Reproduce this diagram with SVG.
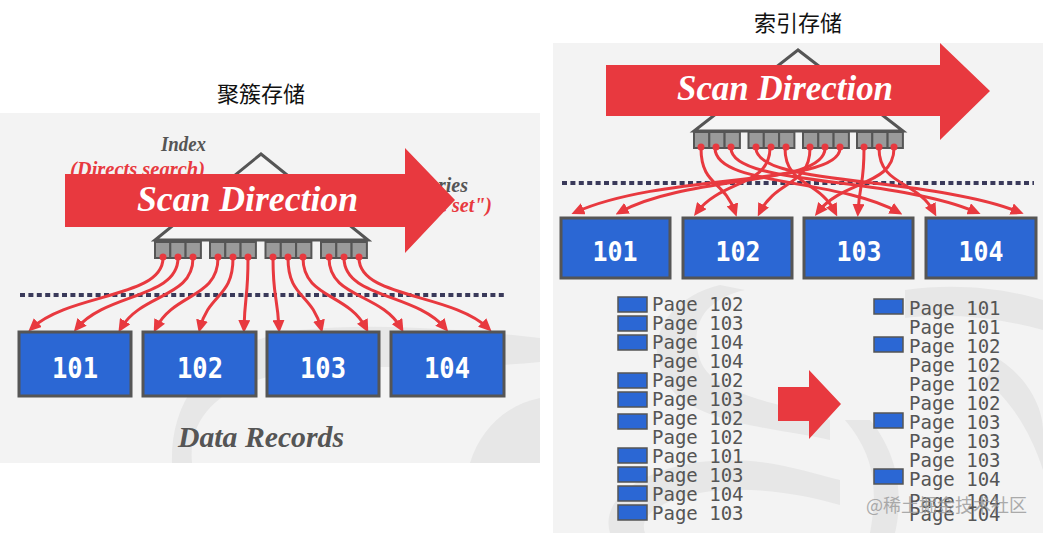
<svg xmlns="http://www.w3.org/2000/svg" width="1043" height="533" viewBox="0 0 1043 533">
  <defs>
    <marker id="ah" markerUnits="userSpaceOnUse" markerWidth="13" markerHeight="12" refX="8" refY="6" orient="auto">
      <path d="M0,0 L13,6 L0,12 z" fill="#e8393f"/>
    </marker>
  </defs>
  <style>
    .panel{fill:#f3f3f3}
    .swirl{fill:#e7e7e7}
    .title{font-family:"Noto Sans CJK SC","Noto Sans",sans-serif;font-size:22px;fill:#111}
    .ital{font-family:"Liberation Serif",serif;font-style:italic;font-weight:bold}
    .gray{fill:#555}
    .red{fill:#e8393f}
    .scan{fill:#fff}
    .tree{fill:#f5f5f5;stroke:#555;stroke-width:3}
    .leaf{fill:#9a9a9a;stroke:#555;stroke-width:2}
    .dot{fill:#e8393f}
    .dots{stroke:#3a3a5a;stroke-width:4;stroke-dasharray:5 3.4;fill:none}
    .box{fill:#2b67d4;stroke:#555;stroke-width:3}
    .num{font-family:"DejaVu Sans Mono",monospace;font-weight:bold;fill:#fff;text-anchor:middle}
    .conn path{fill:none;stroke:#e8393f;stroke-width:3;marker-end:url(#ah)}
    .pg{font-family:"DejaVu Sans Mono","Liberation Mono",monospace;font-size:19px;fill:#555}
    .sq{fill:#2b67d4;stroke:#555;stroke-width:1.5}
    .wm{font-family:"Noto Sans CJK SC",sans-serif;font-size:18px;fill:#999;opacity:0.8}
  </style>

  <rect width="1043" height="533" fill="#fff"/>

  <!-- ===== Left panel: clustered storage ===== -->
  <g id="left-panel">
    <rect class="panel" x="0" y="113" width="540" height="350"/>
    <path class="swirl" d="M192,463 C188,420 215,385 290,372 C360,362 440,372 540,362 L540,338 C470,330 380,322 300,330 C220,340 170,390 172,463 Z"/>
    <path class="swirl" d="M470,463 C480,430 505,405 540,398 L540,463 Z"/>
  </g>
  <text class="title" x="261" y="102" text-anchor="middle">聚簇存储</text>

  <g id="left-labels">
    <text class="ital gray" x="161" y="151" font-size="20" textLength="45" lengthAdjust="spacingAndGlyphs">Index</text>
    <text class="ital red" x="70" y="176" font-size="20" textLength="135" lengthAdjust="spacingAndGlyphs">(Directs search)</text>
    <text class="ital gray" x="468" y="192" font-size="20" text-anchor="end">ries</text>
    <text class="ital red" x="492" y="212" font-size="20" text-anchor="end">e set")</text>
  </g>

  <g id="left-index">
    <polygon class="tree" points="261,154 155,240 368,240"/>
    <rect class="leaf" x="155" y="242" width="15.3" height="16"/>
    <rect class="leaf" x="170.3" y="242" width="15.3" height="16"/>
    <rect class="leaf" x="185.6" y="242" width="15.3" height="16"/>
    <rect class="leaf" x="210" y="242" width="15.3" height="16"/>
    <rect class="leaf" x="225.3" y="242" width="15.3" height="16"/>
    <rect class="leaf" x="240.6" y="242" width="15.3" height="16"/>
    <rect class="leaf" x="265.5" y="242" width="15.3" height="16"/>
    <rect class="leaf" x="280.8" y="242" width="15.3" height="16"/>
    <rect class="leaf" x="296.1" y="242" width="15.3" height="16"/>
    <rect class="leaf" x="321" y="242" width="15.3" height="16"/>
    <rect class="leaf" x="336.3" y="242" width="15.3" height="16"/>
    <rect class="leaf" x="351.6" y="242" width="15.3" height="16"/>
  </g>

  <g id="left-scan-arrow">
    <polygon class="red" points="65,174 405,174 405,148 455,200 405,253 405,227 65,227"/>
    <text class="ital scan" x="137" y="211" font-size="36" textLength="221" lengthAdjust="spacingAndGlyphs">Scan Direction</text>
  </g>

  <line class="dots" x1="20" y1="295" x2="504" y2="295"/>

  <g id="left-connectors" class="conn">
    <path d="M163,258 C163,298 70,293 32,328"/>
    <path d="M178,258 C178,298 106,293 77,328"/>
    <path d="M193,258 C193,298 142,293 121,328"/>
    <path d="M218,258 C218,298 174,293 156,328"/>
    <path d="M233,258 C233,298 209,293 200,328"/>
    <path d="M248,258 C248,298 245,293 244,328"/>
    <path d="M273,258 C273,298 277,293 279,328"/>
    <path d="M288,258 C288,298 312,293 321,328"/>
    <path d="M303,258 C303,298 348,293 366,328"/>
    <path d="M329,258 C329,298 381,293 401,328"/>
    <path d="M344,258 C344,298 416,293 445,328"/>
    <path d="M359,258 C359,298 451,293 488,328"/>
  </g>
  <g id="left-dots">
    <circle class="dot" cx="163" cy="257" r="3.5"/><circle class="dot" cx="178" cy="257" r="3.5"/><circle class="dot" cx="193" cy="257" r="3.5"/>
    <circle class="dot" cx="218" cy="257" r="3.5"/><circle class="dot" cx="233" cy="257" r="3.5"/><circle class="dot" cx="248" cy="257" r="3.5"/>
    <circle class="dot" cx="273" cy="257" r="3.5"/><circle class="dot" cx="288" cy="257" r="3.5"/><circle class="dot" cx="303" cy="257" r="3.5"/>
    <circle class="dot" cx="329" cy="257" r="3.5"/><circle class="dot" cx="344" cy="257" r="3.5"/><circle class="dot" cx="359" cy="257" r="3.5"/>
  </g>

  <g id="left-page-101"><rect class="box" x="19" y="332" width="112" height="64"/><text class="num" x="75" y="378" font-size="29" textLength="46" lengthAdjust="spacingAndGlyphs">101</text></g>
  <g id="left-page-102"><rect class="box" x="143" y="332" width="113" height="64"/><text class="num" x="200" y="378" font-size="29" textLength="46" lengthAdjust="spacingAndGlyphs">102</text></g>
  <g id="left-page-103"><rect class="box" x="267" y="332" width="112" height="64"/><text class="num" x="323" y="378" font-size="29" textLength="46" lengthAdjust="spacingAndGlyphs">103</text></g>
  <g id="left-page-104"><rect class="box" x="391" y="332" width="113" height="64"/><text class="num" x="447" y="378" font-size="29" textLength="46" lengthAdjust="spacingAndGlyphs">104</text></g>

  <text class="ital gray" x="178" y="447" font-size="30" textLength="166" lengthAdjust="spacingAndGlyphs">Data Records</text>

  <!-- ===== Right panel: index storage ===== -->
  <g id="right-panel">
    <rect class="panel" x="553" y="43" width="490" height="490"/>
    <path class="swirl" d="M745,290 C700,300 690,330 700,360 C715,400 800,405 830,420 L830,440 C790,430 700,425 672,390 C640,350 660,300 720,285 Z"/>
    <path class="swirl" d="M610,533 C600,500 640,470 700,462 C760,455 800,470 840,480 L840,505 C790,490 730,485 690,495 C650,505 640,520 645,533 Z"/>
    <path class="swirl" d="M905,290 C960,282 1010,290 1043,300 L1043,330 C1000,318 950,312 905,318 Z"/>
    <path class="swirl" d="M1000,360 C1030,380 1043,410 1043,430 L1043,470 C1030,430 1010,400 985,380 Z"/>
    <path class="swirl" d="M845,420 C870,450 880,480 870,533 L895,533 C905,490 895,450 870,420 Z"/>
  </g>
  <text class="title" x="798" y="31" text-anchor="middle" font-size="23">索引存储</text>

  <g id="right-index">
    <polygon class="tree" points="798,50 694,131 903,131"/>
    <rect class="leaf" x="694" y="132" width="15.3" height="16"/>
    <rect class="leaf" x="709.3" y="132" width="15.3" height="16"/>
    <rect class="leaf" x="724.6" y="132" width="15.3" height="16"/>
    <rect class="leaf" x="748.5" y="132" width="15.3" height="16"/>
    <rect class="leaf" x="763.8" y="132" width="15.3" height="16"/>
    <rect class="leaf" x="779.1" y="132" width="15.3" height="16"/>
    <rect class="leaf" x="803" y="132" width="15.3" height="16"/>
    <rect class="leaf" x="818.3" y="132" width="15.3" height="16"/>
    <rect class="leaf" x="833.6" y="132" width="15.3" height="16"/>
    <rect class="leaf" x="857" y="132" width="15.3" height="16"/>
    <rect class="leaf" x="872.3" y="132" width="15.3" height="16"/>
    <rect class="leaf" x="887.6" y="132" width="15.3" height="16"/>
  </g>

  <g id="right-scan-arrow">
    <polygon class="red" points="606,65 940,65 940,43 990,91 940,140 940,116 606,116"/>
    <text class="ital scan" x="677" y="100" font-size="35" textLength="216" lengthAdjust="spacingAndGlyphs">Scan Direction</text>
  </g>

  <line class="dots" x1="562" y1="183" x2="1034" y2="183"/>

  <g id="right-connectors" class="conn">
    <path d="M701,148 C701,186 724,180 735,212"/>
    <path d="M715,148 C715,186 836,178 898,212"/>
    <path d="M731,148 C731,186 892,176 976,212"/>
    <path d="M756,148 C756,186 929,176 1019,212"/>
    <path d="M770,148 C770,186 721,180 697,212"/>
    <path d="M785,148 C785,186 819,180 835,212"/>
    <path d="M810,148 C810,186 776,180 760,212"/>
    <path d="M825,148 C825,186 690,174 620,212"/>
    <path d="M840,148 C840,186 666,172 576,212"/>
    <path d="M864,148 C864,186 860,180 858,212"/>
    <path d="M879,148 C879,186 917,180 934,212"/>
    <path d="M894,148 C894,186 843,180 818,212"/>
  </g>
  <g id="right-dots">
    <circle class="dot" cx="701" cy="147" r="3.5"/><circle class="dot" cx="716" cy="147" r="3.5"/><circle class="dot" cx="731" cy="147" r="3.5"/>
    <circle class="dot" cx="756" cy="147" r="3.5"/><circle class="dot" cx="771" cy="147" r="3.5"/><circle class="dot" cx="786" cy="147" r="3.5"/>
    <circle class="dot" cx="810" cy="147" r="3.5"/><circle class="dot" cx="825" cy="147" r="3.5"/><circle class="dot" cx="840" cy="147" r="3.5"/>
    <circle class="dot" cx="864" cy="147" r="3.5"/><circle class="dot" cx="879" cy="147" r="3.5"/><circle class="dot" cx="894" cy="147" r="3.5"/>
  </g>

  <g id="right-page-101"><rect class="box" x="561" y="218" width="109" height="60"/><text class="num" x="615" y="261" font-size="26" textLength="45" lengthAdjust="spacingAndGlyphs">101</text></g>
  <g id="right-page-102"><rect class="box" x="683" y="218" width="109" height="60"/><text class="num" x="738" y="261" font-size="26" textLength="45" lengthAdjust="spacingAndGlyphs">102</text></g>
  <g id="right-page-103"><rect class="box" x="804" y="218" width="109" height="60"/><text class="num" x="859" y="261" font-size="26" textLength="45" lengthAdjust="spacingAndGlyphs">103</text></g>
  <g id="right-page-104"><rect class="box" x="926" y="218" width="110" height="60"/><text class="num" x="981" y="261" font-size="26" textLength="45" lengthAdjust="spacingAndGlyphs">104</text></g>

  <g id="unsorted-list">
    <rect class="sq" x="618" y="297" width="29" height="15"/>
    <rect class="sq" x="618" y="316" width="29" height="15"/>
    <rect class="sq" x="618" y="335" width="29" height="15"/>
    <rect class="sq" x="618" y="373" width="29" height="15"/>
    <rect class="sq" x="618" y="392" width="29" height="15"/>
    <rect class="sq" x="618" y="414" width="29" height="15"/>
    <rect class="sq" x="618" y="448" width="29" height="15"/>
    <rect class="sq" x="618" y="467" width="29" height="15"/>
    <rect class="sq" x="618" y="486" width="29" height="15"/>
    <rect class="sq" x="618" y="505" width="29" height="15"/>
    <text class="pg" x="652" y="311">Page 102</text>
    <text class="pg" x="652" y="330">Page 103</text>
    <text class="pg" x="652" y="349">Page 104</text>
    <text class="pg" x="652" y="368">Page 104</text>
    <text class="pg" x="652" y="387">Page 102</text>
    <text class="pg" x="652" y="406">Page 103</text>
    <text class="pg" x="652" y="425">Page 102</text>
    <text class="pg" x="652" y="444">Page 102</text>
    <text class="pg" x="652" y="463">Page 101</text>
    <text class="pg" x="652" y="482">Page 103</text>
    <text class="pg" x="652" y="501">Page 104</text>
    <text class="pg" x="652" y="520">Page 103</text>
  </g>

  <polygon id="sort-arrow" class="red" points="778,387 809,387 809,370 841,404 809,439 809,421 778,421"/>

  <g id="sorted-list">
    <rect class="sq" x="874" y="299" width="29" height="15"/>
    <rect class="sq" x="874" y="337" width="29" height="15"/>
    <rect class="sq" x="874" y="413" width="29" height="15"/>
    <rect class="sq" x="874" y="469" width="29" height="15"/>
    <text class="pg" x="909" y="315">Page 101</text>
    <text class="pg" x="909" y="334">Page 101</text>
    <text class="pg" x="909" y="353">Page 102</text>
    <text class="pg" x="909" y="372">Page 102</text>
    <text class="pg" x="909" y="391">Page 102</text>
    <text class="pg" x="909" y="410">Page 102</text>
    <text class="pg" x="909" y="429">Page 103</text>
    <text class="pg" x="909" y="448">Page 103</text>
    <text class="pg" x="909" y="467">Page 103</text>
    <text class="pg" x="909" y="486">Page 104</text>
    <text class="pg" x="909" y="508">Page 104</text>
    <text class="pg" x="909" y="521">Page 104</text>
  </g>

  <text class="wm" x="866" y="512">@稀土掘金技术社区</text>
</svg>
